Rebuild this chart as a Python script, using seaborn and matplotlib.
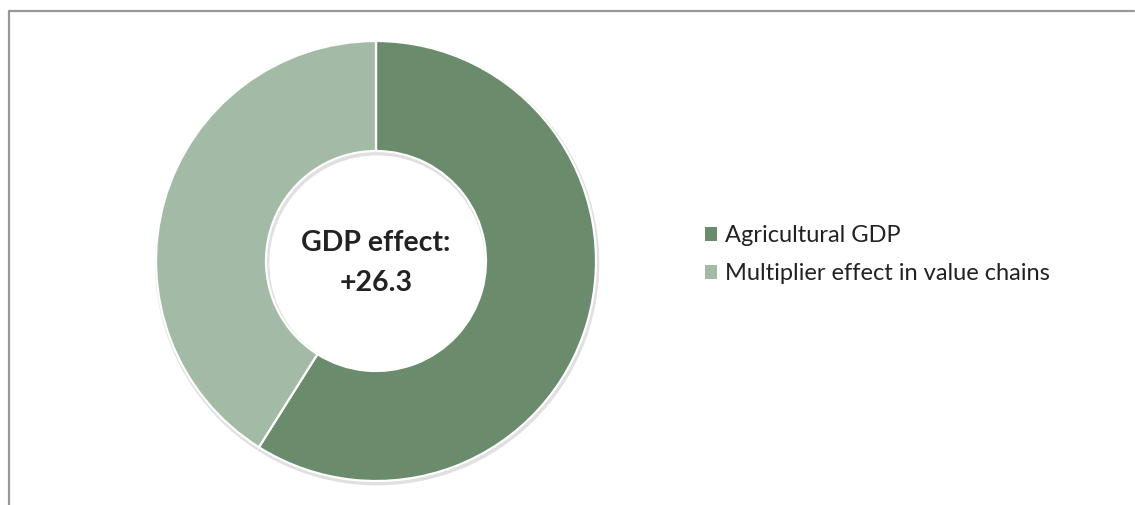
import matplotlib
matplotlib.use("Agg")
import matplotlib.pyplot as plt
from matplotlib.patches import Patch
from matplotlib.lines import Line2D
import seaborn as sns

categories = ["Agricultural GDP", "Multiplier effect in value chains"]
values = [15.5, 10.8]
colors = ["#6b8b6d", "#a3bba6"]
center_label = "GDP effect:\n+26.3"

sns.set_theme(style="white")
plt.rcParams["font.family"] = ["Lato", "DejaVu Sans"]

W, H = 1135, 505
fig = plt.figure(figsize=(W / 100, H / 100), dpi=100)
fig.patch.set_facecolor("white")

# frame lines (top and left, as in the cropped reference)
frame_col = "#979797"
fig.add_artist(Line2D([9 / W, 1134 / W], [1 - 11 / H, 1 - 11 / H], color=frame_col, lw=1.6,
                      transform=fig.transFigure))
fig.add_artist(Line2D([9 / W, 9 / W], [0, 1 - 11 / H], color=frame_col, lw=1.6,
                      transform=fig.transFigure))

cx, cy, r = 376, 261, 220
pad = 1.03
half = r * pad
ax = fig.add_axes([(cx - half) / W, (H - cy - half) / H, 2 * half / W, 2 * half / H])

# subtle shadow
ax.pie([1], radius=1.01, colors=["#e0e0e0"], startangle=90, center=(0.005, -0.01),
       wedgeprops=dict(width=0.52, edgecolor="none"))
wedges, _ = ax.pie(values, colors=colors, startangle=90, counterclock=False, radius=1.0,
                   wedgeprops=dict(width=0.5, edgecolor="white", linewidth=1.6))
ax.set_xlim(-pad, pad)
ax.set_ylim(-pad, pad)
ax.set_aspect("equal")
ax.axis("off")

ax.text(0, -0.01, center_label, ha="center", va="center", fontsize=20.5, fontweight="bold",
        color="#222222", linespacing=1.65)

handles = [Patch(facecolor=c, edgecolor="none") for c in colors]
fig.legend(handles, categories, loc="center left", bbox_to_anchor=(684 / W, 1 - 255 / H),
           frameon=False, fontsize=17, handlelength=0.5, handleheight=0.5,
           handletextpad=0.35, labelspacing=0.72, labelcolor="#222222")

fig.savefig("out.png", dpi=100, facecolor="white")
